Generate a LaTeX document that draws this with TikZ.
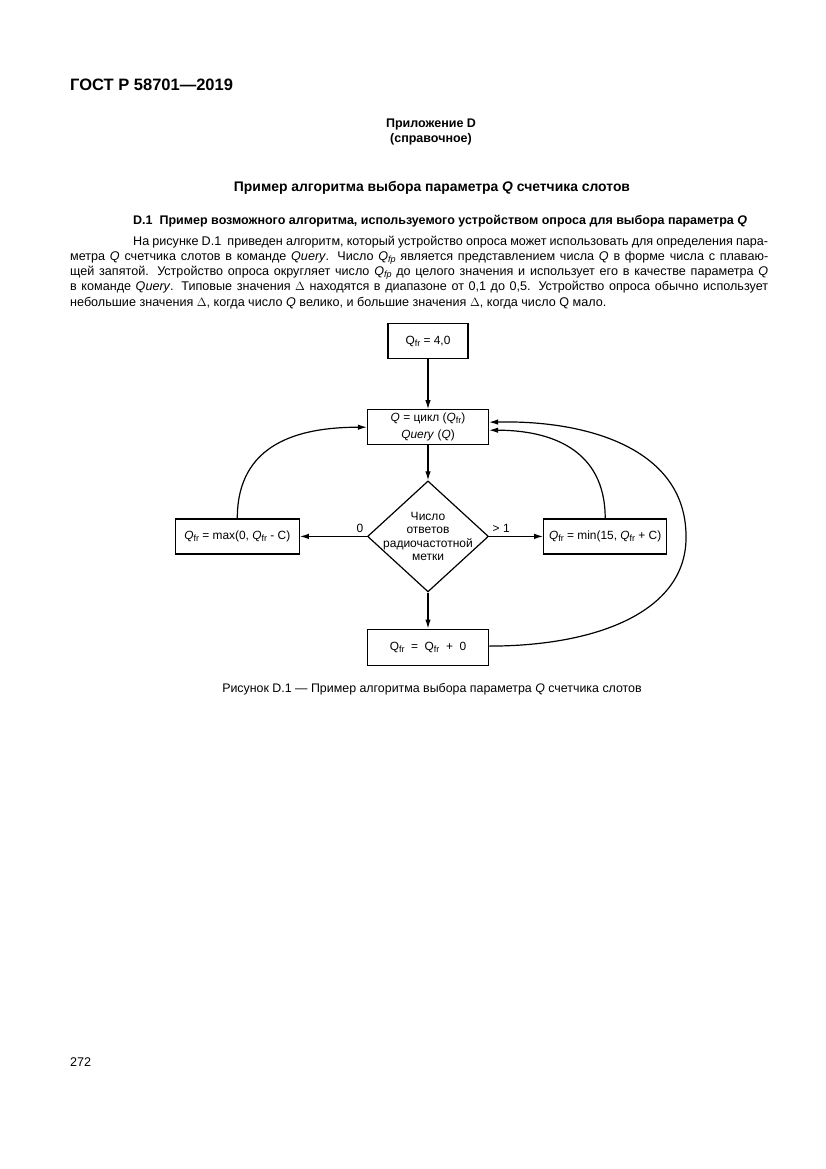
\documentclass[tikz,border=0pt]{standalone}
\usepackage{fontspec}
\setmainfont{Liberation Sans}
\usetikzlibrary{arrows.meta, positioning, shapes.geometric}

\newcommand{\lowsub}[1]{\raisebox{-0.35ex}{\fontsize{9}{9}\selectfont #1}}
\newcommand{\Qfr}{Q\lowsub{fr}}
\newcommand{\Qifr}{\textit{Q}\lowsub{fr}}
\newcommand{\Qfp}{\textit{Q}\lowsub{\textit{fp}}}

\begin{document}
\begin{tikzpicture}[x=1pt, y=-1pt,
        txt/.style={inner sep=0pt, font=\fontsize{12.6}{15}\selectfont},
        bold/.style={inner sep=0pt, font=\fontsize{12.5}{15}\selectfont\bfseries},
        box/.style={rectangle, draw, line width=1.2pt, minimum width=121pt, minimum height=35pt, align=center, inner sep=2pt, font=\fontsize{11.9}{17}\selectfont},
        decision/.style={diamond, draw, line width=1.2pt, minimum width=121pt, minimum height=111pt, inner sep=0pt},
        arrow/.style={-{Latex[length=9pt, width=5.5pt]}, line width=1.2pt}
    ]
    \useasboundingbox (0,0) rectangle (826,1169);
    % page text
    \node[bold, anchor=base west, font=\fontsize{16.5}{18}\selectfont\bfseries] (gost) at (70,90.5) {ГОСТ Р 58701—2019};
    \node[bold, anchor=base] (annex) at (431,127.5) {Приложение D};
    \node[bold, anchor=base] (annexkind) at (431,142.5) {(справочное)};
    \node[bold, anchor=base, font=\fontsize{13.9}{16}\selectfont\bfseries] (title) at (432,191) {Пример алгоритма выбора параметра \textit{Q} счетчика слотов};
    \node[bold, anchor=base west] (sect) at (133,224.5) {D.1\ \ Пример возможного алгоритма, используемого устройством опроса для выбора параметра \textit{Q}};
    \node[txt, anchor=base west] (line1) at (133,245.5) {\makebox[635pt][s]{На рисунке D.1\ \ приведен алгоритм, который устройство опроса может использовать для определения пара-}};
    \node[txt, anchor=base west] (line2) at (70,260.5) {\makebox[698pt][s]{метра \textit{Q} счетчика слотов в команде \textit{Query}. Число \Qfp{} является представлением числа \textit{Q} в форме числа с плаваю-}};
    \node[txt, anchor=base west] (line3) at (70,275.5) {\makebox[698pt][s]{щей запятой. Устройство опроса округляет число \Qfp{} до целого значения и использует его в качестве параметра \textit{Q}}};
    \node[txt, anchor=base west] (line4) at (70,290.5) {\makebox[698pt][s]{в команде \textit{Query}. Типовые значения $\Delta$ находятся в диапазоне от 0,1 до 0,5. Устройство опроса обычно использует}};
    \node[txt, anchor=base west] (line5) at (70,306) {небольшие значения $\Delta$, когда число \textit{Q} велико, и большие значения $\Delta$, когда число Q мало.};

    % flowchart
    \node[box, minimum width=80pt] (init) at (428,341) {\Qfr{} = 4,0};
    \node[box, below=50pt of init] (mode) {\textit{Q} = цикл (\Qifr)\\\textit{Query} (\textit{Q})};
    \node[decision, below=35pt of mode] (count) {};
    \node[inner sep=0pt, align=center, font=\fontsize{12}{13.5}\selectfont] (counttext) at (count.center) {Число\\ответов\\радиочастотной\\метки};
    \node[box, minimum width=124pt, left=67pt of count] (lower) {\Qifr{} = max(0, \Qifr{} - C)};
    \node[box, minimum width=123pt, right=54pt of count] (upper) {\Qifr{} = min(15, \Qifr{} + C)};
    \node[box, minimum height=36pt, below=36pt of count] (keep) {\Qfr\ \ =\ \ \Qfr\ \ +\ \ 0};
    \coordinate (turn) at (686,535);

    \draw[arrow] (init) -- (mode);
    \draw[arrow] (mode) -- (count);
    \draw[arrow] (count) -- (keep);
    \draw[arrow] (count.west) -- node[at start, anchor=south east, inner sep=3pt, font=\fontsize{12}{13}\selectfont] {0} (lower.east);
    \draw[arrow] (count.east) -- node[at start, anchor=south west, inner sep=3pt, font=\fontsize{12}{13}\selectfont] {> 1} (upper.west);
    \draw[arrow] (lower.north) .. controls +(0,-75) and +(-68,0) .. (mode.west);
    \draw[arrow] (upper.north) .. controls +(0,-70) and +(60,0) .. ([yshift=-3pt]mode.east);
    \draw[arrow] ([yshift=1pt]keep.east) .. controls (600,646) and (688,610) .. (turn)
        .. controls (685,450) and (590,420) .. ([yshift=5pt]mode.east);

    \node[txt, anchor=base, font=\fontsize{12.4}{15}\selectfont] (caption) at (432,692.5) {Рисунок D.1 — Пример алгоритма выбора параметра \textit{Q} счетчика слотов};
    \node[txt, anchor=base west] (pagenum) at (70,1066.5) {272};
\end{tikzpicture}
\end{document}
